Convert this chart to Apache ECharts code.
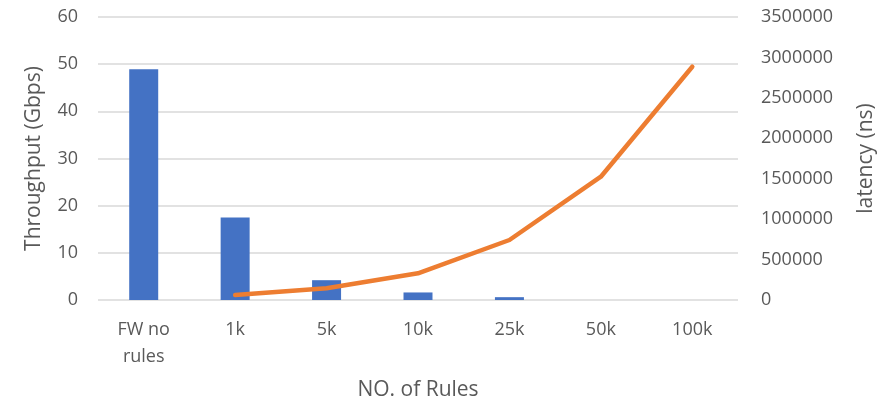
<!DOCTYPE html>
<html>
<head>
<meta charset="utf-8">
<script src="https://cdn.jsdelivr.net/npm/echarts@6/dist/echarts.min.js"></script>
<style>
  html, body { margin: 0; padding: 0; background: #fff; }
  #chart { width: 889px; height: 406px; }
</style>
</head>
<body>
<div id="chart"></div>
<script>
// Rule-set sizes on the x axis
const categories = ['FW no\nrules', '1k', '5k', '10k', '25k', '50k', '100k'];
// Throughput per rule-set size (Gbps)
const throughput = [48.9, 17.5, 4.2, 1.6, 0.6, 0, 0];
// Latency per rule-set size (ns); no measurement for the no-rules case
const latency = [null, 62000, 145000, 330000, 742000, 1525000, 2885000];

const textColor = '#595959';
const font = 'Open Sans, Liberation Sans, sans-serif';

const chart = echarts.init(document.getElementById('chart'), null, { renderer: 'canvas' });
chart.setOption({
  animation: false,
  backgroundColor: '#ffffff',
  grid: { left: 98, right: 151, top: 17, bottom: 106, containLabel: false },
  xAxis: {
    type: 'category',
    data: categories,
    name: 'NO. of Rules',
    nameLocation: 'middle',
    nameGap: 80,
    nameTextStyle: { color: textColor, fontSize: 21, fontFamily: font },
    axisLine: { show: false },
    axisTick: { show: false },
    axisLabel: { color: textColor, fontSize: 18, fontFamily: font, margin: 16, lineHeight: 27 }
  },
  yAxis: [
    {
      type: 'value',
      min: 0, max: 60, interval: 10,
      name: 'Throughput (Gbps)',
      nameLocation: 'middle',
      nameGap: 53,
      nameTextStyle: { color: textColor, fontSize: 21, fontFamily: font },
      axisLine: { show: false },
      axisTick: { show: false },
      axisLabel: { color: textColor, fontSize: 18, fontFamily: font, margin: 20 },
      splitLine: { lineStyle: { color: '#d9d9d9', width: 1.5 } }
    },
    {
      type: 'value',
      min: 0, max: 3500000, interval: 500000,
      name: 'latency (ns)',
      nameLocation: 'middle',
      nameGap: 118,
      nameTextStyle: { color: textColor, fontSize: 21, fontFamily: font },
      axisLine: { show: false },
      axisTick: { show: false },
      axisLabel: {
        color: textColor, fontSize: 18, fontFamily: font, margin: 23,
        formatter: (v) => String(v)
      },
      splitLine: { show: false }
    }
  ],
  series: [
    {
      name: 'Throughput',
      type: 'bar',
      data: throughput,
      barWidth: 29,
      itemStyle: { color: '#4472C4' }
    },
    {
      name: 'Latency',
      type: 'line',
      yAxisIndex: 1,
      data: latency,
      showSymbol: false,
      symbol: 'none',
      lineStyle: { color: '#ED7D31', width: 4.5, cap: 'round', join: 'round' },
      connectNulls: false
    }
  ]
});
</script>
</body>
</html>
